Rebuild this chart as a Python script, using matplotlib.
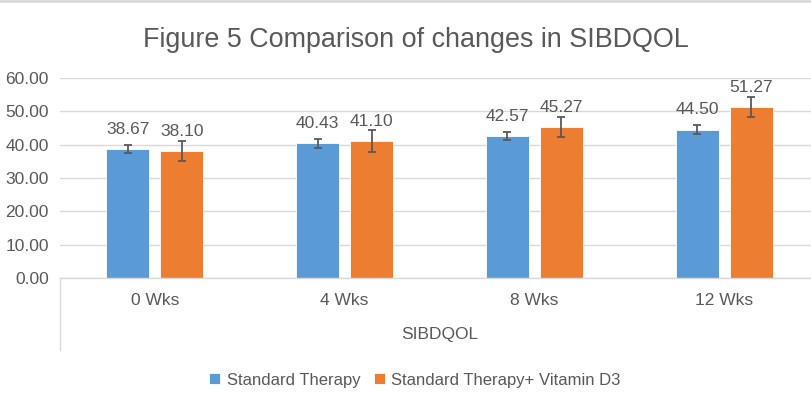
import numpy as np
import matplotlib.pyplot as plt
from matplotlib import font_manager

# dados
semanas = ['0 Wks', '4 Wks', '8 Wks', '12 Wks']
padrao = [38.67, 40.43, 42.57, 44.50]
padrao_err = [1.3, 1.3, 1.3, 1.3]
vitd = [38.10, 41.10, 45.27, 51.27]
vitd_err = [3.0, 3.2, 2.9, 2.9]
nomes = ['Standard Therapy', 'Standard Therapy+ Vitamin D3']
titulo = 'Figure 5 Comparison of changes in SIBDQOL'
eixo_x = 'SIBDQOL'

nomes_fontes = {f.name for f in font_manager.fontManager.ttflist}
fonte = 'Liberation Sans Narrow' if 'Liberation Sans Narrow' in nomes_fontes else 'Liberation Sans'
plt.rcParams['font.family'] = ['Liberation Sans', 'DejaVu Sans']

cinza = '#595959'
azul = '#5B9BD5'
laranja = '#ED7D31'

fig = plt.figure(figsize=(8.11, 4.01), dpi=100)
W, H = 811, 401
x0, x1 = 60, 819
ytop, ybot = 78, 278
ax = fig.add_axes([x0 / W, (H - ybot) / H, (x1 - x0) / W, (ybot - ytop) / H])

x = np.arange(len(semanas))
larg = 0.227
desl = 0.142

ax.bar(x - desl, padrao, larg, color=azul, edgecolor='white', linewidth=0.6, zorder=2, label=nomes[0])
ax.bar(x + desl, vitd, larg, color=laranja, edgecolor='white', linewidth=0.6, zorder=2, label=nomes[1])
ax.errorbar(x - desl, padrao, yerr=padrao_err, fmt='none', ecolor=cinza, elinewidth=1.3, capsize=2.6, capthick=1.3, zorder=3)
ax.errorbar(x + desl, vitd, yerr=vitd_err, fmt='none', ecolor=cinza, elinewidth=1.3, capsize=2.6, capthick=1.3, zorder=3)

for xi, v in zip(x - desl, padrao):
    ax.annotate(f'{v:.2f}', (xi, v), xytext=(0, 9), textcoords='offset points',
                ha='center', va='bottom', fontsize=12.5, color=cinza)
for xi, v in zip(x + desl, vitd):
    ax.annotate(f'{v:.2f}', (xi, v), xytext=(0, 9), textcoords='offset points',
                ha='center', va='bottom', fontsize=12.5, color=cinza)

ax.set_xlim(-0.5, len(semanas) - 0.5)
ax.set_ylim(0, 60)
ax.set_yticks(np.arange(0, 61, 10))
ax.set_yticklabels([f'{t:.2f}' for t in np.arange(0, 61, 10)], fontsize=12.5, color=cinza)
ax.set_xticks(x)
ax.set_xticklabels(semanas, fontsize=12.5, color=cinza)
ax.tick_params(axis='y', length=0, pad=8)
ax.tick_params(axis='x', length=0, pad=11)
ax.grid(axis='y', color='#D9D9D9', linewidth=1, zorder=0)
for lado in ['top', 'right', 'left']:
    ax.spines[lado].set_visible(False)
ax.spines['bottom'].set_color('#D9D9D9')
ax.spines['bottom'].set_linewidth(1)

# linha vertical do eixo de categorias (estilo Excel)
ax.plot([0, 0], [0, -(350 - ybot) / (ybot - ytop)], transform=ax.transAxes,
        color='#D9D9D9', linewidth=1, clip_on=False)
ax.text(0.5, -(335 - ybot) / (ybot - ytop), eixo_x, transform=ax.transAxes,
        ha='center', va='center', fontsize=12.5, color=cinza)

fig.text(416 / W, 1 - 40 / H, titulo, ha='center', va='center', fontsize=19.4,
         color=cinza, family=[fonte, 'DejaVu Sans'])

fig.legend(loc='center', bbox_to_anchor=(415 / W, 1 - 380 / H), ncol=2, frameon=False,
           fontsize=12, handlelength=0.65, handleheight=0.65, handletextpad=0.4,
           columnspacing=0.8, labelcolor=cinza)

# borda cinza no topo
fig.add_artist(plt.Line2D([0, 1], [0.998, 0.998], color='#D9D9D9', linewidth=2))

fig.savefig('out.png', dpi=100)
